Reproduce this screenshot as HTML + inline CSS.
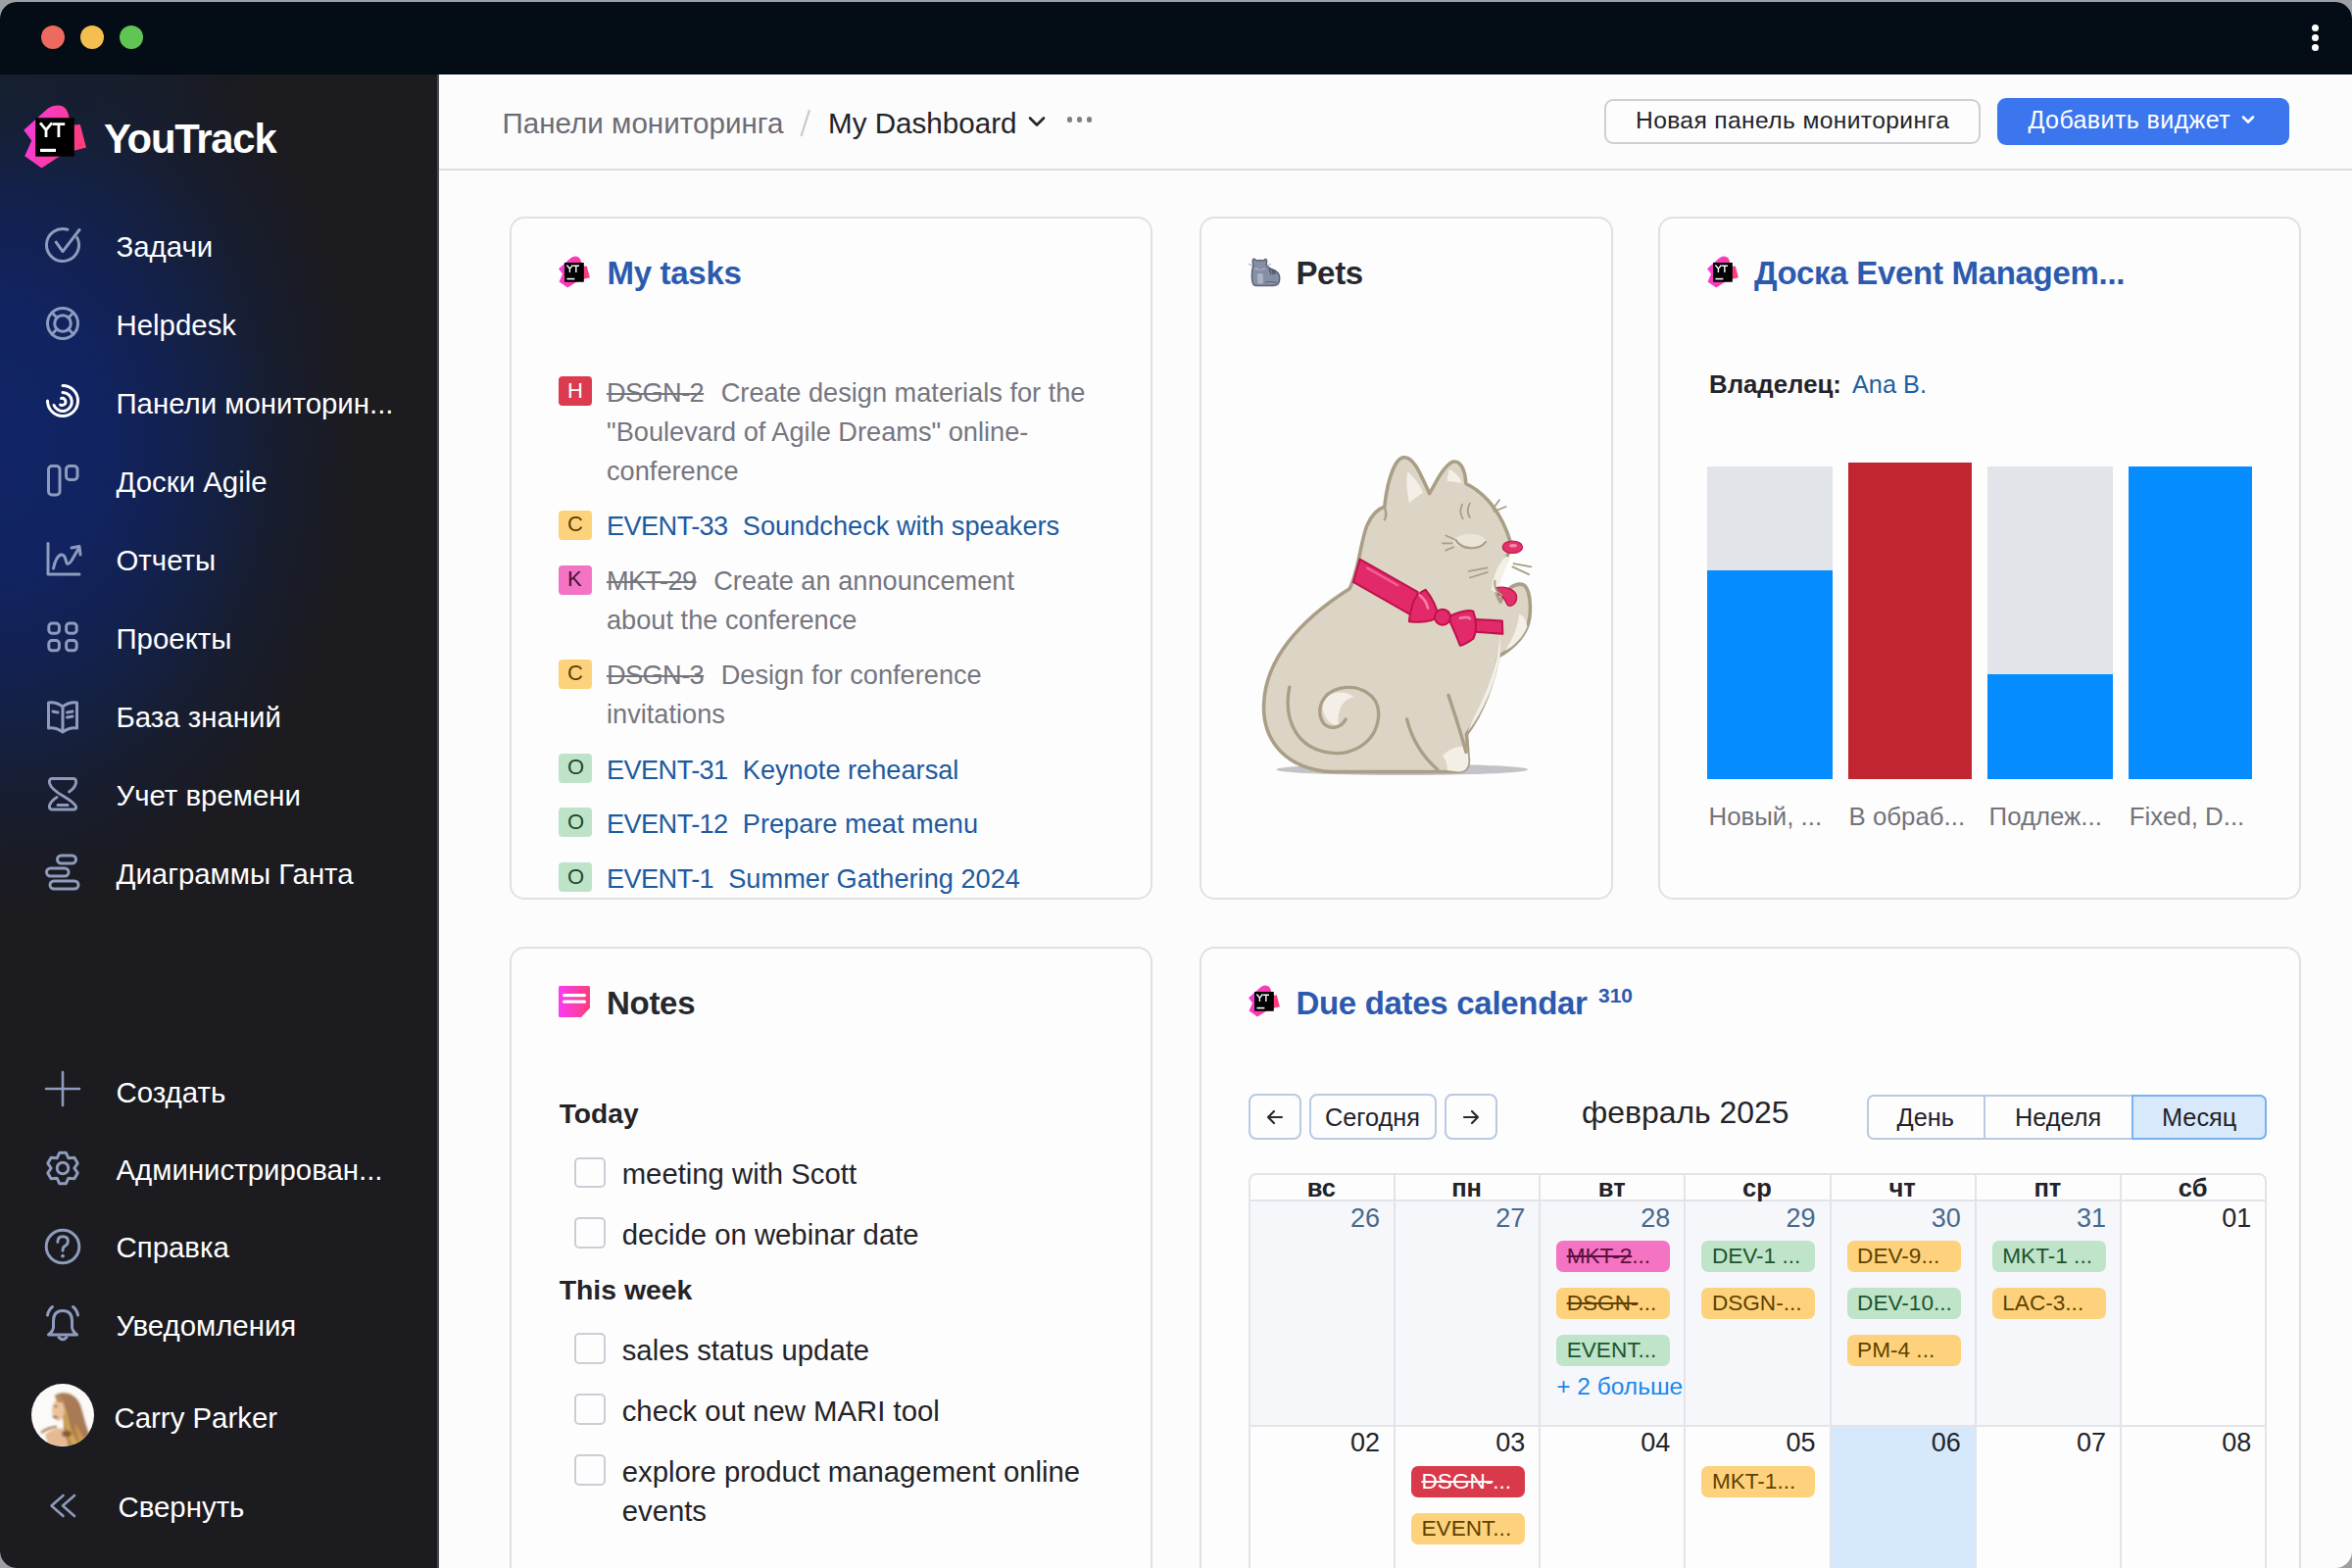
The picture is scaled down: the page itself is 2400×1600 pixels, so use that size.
<!DOCTYPE html><html><head><meta charset="utf-8"><style>
*{box-sizing:border-box;margin:0;padding:0}
html,body{width:2400px;height:1600px;overflow:hidden;background:#9ca0a5;font-family:"Liberation Sans",sans-serif}
.t{position:absolute;line-height:1;white-space:nowrap}
.a{position:absolute;display:block}
.win{position:absolute;left:0;top:2px;width:2400px;height:1598px;border-radius:17px;overflow:hidden;background:#fcfcfd}
.pg{position:absolute;left:0;top:-2px;width:2400px;height:1600px}
.card{position:absolute;border:2px solid #e1e0e4;border-radius:15px;background:#fdfdfe;overflow:hidden}
.strike{text-decoration:line-through;text-decoration-thickness:2px}
.id{letter-spacing:-0.6px}
.strike.id{margin-right:2.5px}
</style></head><body><div class="win"><div class="pg"><div class="a" style="left:0.00px;top:0.00px;width:2400.00px;height:76.00px;background:#040d16"></div>
<div class="a" style="left:42.00px;top:26.00px;width:24.00px;height:24.00px;background:#ed6a5e;border-radius:50%"></div>
<div class="a" style="left:82.00px;top:26.00px;width:24.00px;height:24.00px;background:#f5bf4f;border-radius:50%"></div>
<div class="a" style="left:122.00px;top:26.00px;width:24.00px;height:24.00px;background:#61c554;border-radius:50%"></div>
<div class="a" style="left:2358.50px;top:24.50px;width:7.00px;height:7.00px;background:#fff;border-radius:50%"></div>
<div class="a" style="left:2358.50px;top:34.50px;width:7.00px;height:7.00px;background:#fff;border-radius:50%"></div>
<div class="a" style="left:2358.50px;top:44.50px;width:7.00px;height:7.00px;background:#fff;border-radius:50%"></div>
<div class="a" style="left:0;top:76px;width:448px;height:1524px;background:#1b1b20;overflow:hidden"><div class="a" style="left:0;top:0;width:448px;height:1524px;background:radial-gradient(ellipse 360px 470px at 0px 374px,#112466 0%,#112360 30%,#13214f 50%,#15203f 65%,#181d2e 80%,rgba(27,27,32,0) 100%)"></div><div class="a" style="left:0;top:0;width:448px;height:200px;background:radial-gradient(ellipse 260px 120px at 0px 0px,rgba(20,32,48,.8) 0%,rgba(27,27,32,0) 100%)"></div><div class="a" style="left:446px;top:0;width:2px;height:1524px;background:#4a4b51"></div></div>
<svg class="a" style="left:0.00px;top:0.00px;" width="100" height="180" viewBox="0 0 100 180"><defs><linearGradient id="lg1" x1="0" y1="0" x2="1" y2="0.3"><stop offset="0" stop-color="#f53be9"/><stop offset="1" stop-color="#ff3c7c"/></linearGradient></defs><path d="M24.2 132.7 L49 110.5 Q56.5 105.5 64 108.5 Q69 110.5 70.5 120 L76 127.5 L81.8 127 L88 150.5 L75.7 153.8 L58.9 160.7 L42.5 171.4 L25.2 159.2 L32.3 143.4 Z" fill="url(#lg1)"/><rect x="36.2" y="120.2" width="39.6" height="39.5" fill="#000"/><path d="M41 125.3 L47 132.6 L53 125.3 M47 132.6 L47 140" stroke="#fff" stroke-width="2.8" fill="none"/><path d="M53.6 126.7 L66.2 126.7 M59.9 126.7 L59.9 140" stroke="#fff" stroke-width="2.8" fill="none"/><rect x="41" y="151.8" width="16" height="3.2" fill="#fff"/></svg>
<div class="t" style="left:106.00px;top:120.82px;font-size:41.8px;color:#fff;font-weight:700;letter-spacing:-1.2px">YouTrack</div>
<svg class="a" style="left:44.00px;top:230.00px;" width="40" height="40" viewBox="0 0 40 40"><g stroke="#8e9bbd" stroke-width="3" fill="none" stroke-linecap="round" stroke-linejoin="round"><path d="M34.75 12.6 A16.5 16.5 0 1 1 24.8 4.2"/><path d="M13.2 17.2 L20 26.6 L37 4.5"/></g></svg>
<div class="t" style="left:118.50px;top:236.81px;font-size:29.4px;color:#fff;font-weight:400;">Задачи</div>
<svg class="a" style="left:44.00px;top:310.00px;" width="40" height="40" viewBox="0 0 40 40"><g stroke="#8e9bbd" stroke-width="3" fill="none" stroke-linecap="round" stroke-linejoin="round"><circle cx="20" cy="20" r="15.5"/><circle cx="20" cy="20" r="8.3"/><path d="M9 9 L14.2 14.2 M31 9 L25.8 14.2 M9 31 L14.2 25.8 M31 31 L25.8 25.8"/></g></svg>
<div class="t" style="left:118.50px;top:316.81px;font-size:29.4px;color:#fff;font-weight:400;">Helpdesk</div>
<svg class="a" style="left:44.00px;top:390.00px;" width="40" height="40" viewBox="0 0 40 40"><g stroke="#fff" stroke-width="3" fill="none" stroke-linecap="round" stroke-linejoin="round"><path d="M4.5 19 A15.5 15.5 0 1 0 20 3.5"/><path d="M11 23.5 A9.5 9.5 0 1 0 20 10.5" /><path d="M18.5 16.5 A3.6 3.6 0 1 1 17.5 23"/></g></svg>
<div class="t" style="left:118.50px;top:396.81px;font-size:29.4px;color:#fff;font-weight:400;">Панели мониторин...</div>
<svg class="a" style="left:44.00px;top:470.00px;" width="40" height="40" viewBox="0 0 40 40"><g stroke="#8e9bbd" stroke-width="3" fill="none" stroke-linecap="round" stroke-linejoin="round"><rect x="5.5" y="5.5" width="11.5" height="29.5" rx="3.5"/><rect x="23.5" y="5.5" width="11.5" height="14" rx="3.5"/></g></svg>
<div class="t" style="left:118.50px;top:476.81px;font-size:29.4px;color:#fff;font-weight:400;">Доски Agile</div>
<svg class="a" style="left:44.00px;top:550.00px;" width="40" height="40" viewBox="0 0 40 40"><g stroke="#8e9bbd" stroke-width="3" fill="none" stroke-linecap="round" stroke-linejoin="round"><path d="M5 4.5 L5 36 L37 36"/><path d="M10.5 30 Q13 18 18 16 Q22 15 23.5 23 Q25 28 29 22 L36 10"/><path d="M29 9 L37 7.5 L38 16"/></g></svg>
<div class="t" style="left:118.50px;top:556.81px;font-size:29.4px;color:#fff;font-weight:400;">Отчеты</div>
<svg class="a" style="left:44.00px;top:630.00px;" width="40" height="40" viewBox="0 0 40 40"><g stroke="#8e9bbd" stroke-width="3" fill="none" stroke-linecap="round" stroke-linejoin="round"><rect x="5.8" y="6" width="10.6" height="10.2" rx="3.2"/><rect x="23.6" y="6" width="10.6" height="10.2" rx="3.2"/><rect x="5.8" y="23.6" width="10.6" height="10.2" rx="3.2"/><rect x="23.6" y="23.6" width="10.6" height="10.2" rx="3.2"/></g></svg>
<div class="t" style="left:118.50px;top:636.81px;font-size:29.4px;color:#fff;font-weight:400;">Проекты</div>
<svg class="a" style="left:44.00px;top:710.00px;" width="40" height="40" viewBox="0 0 40 40"><g stroke="#8e9bbd" stroke-width="3" fill="none" stroke-linecap="round" stroke-linejoin="round"><path d="M20 37 L20 11 Q13 6 5.5 7 L5.5 33 Q13 32 20 37 Q27 32 34.5 33 L34.5 7 Q27 6 20 11"/><path d="M10 16 L15 17 M24.5 17 L30 16 M24.5 22 L30 21"/></g></svg>
<div class="t" style="left:118.50px;top:716.81px;font-size:29.4px;color:#fff;font-weight:400;">База знаний</div>
<svg class="a" style="left:44.00px;top:790.00px;" width="40" height="40" viewBox="0 0 40 40"><g stroke="#8e9bbd" stroke-width="3" fill="none" stroke-linecap="round" stroke-linejoin="round"><path d="M9 4.5 L31 4.5 Q34 4.5 33.5 9 Q32.5 14 26.5 18"/><path d="M9 4.5 Q6 4.5 6.5 9 Q8 15 20 22 Q32 29 33.5 33 Q34 36 31 36 L9 36 Q6 36 6.5 32 Q8 27 14 23.5"/><path d="M15 31.5 L25 31.5"/></g></svg>
<div class="t" style="left:118.50px;top:796.81px;font-size:29.4px;color:#fff;font-weight:400;">Учет времени</div>
<svg class="a" style="left:44.00px;top:870.00px;" width="40" height="40" viewBox="0 0 40 40"><g stroke="#8e9bbd" stroke-width="3" fill="none" stroke-linecap="round" stroke-linejoin="round"><rect x="14.5" y="3" width="19" height="8" rx="4"/><rect x="3.5" y="16" width="22.5" height="8" rx="4"/><rect x="7" y="29" width="29" height="8" rx="4"/></g></svg>
<div class="t" style="left:118.50px;top:876.81px;font-size:29.4px;color:#fff;font-weight:400;">Диаграммы Ганта</div>
<svg class="a" style="left:44.00px;top:1090.50px;" width="40" height="40" viewBox="0 0 40 40"><g stroke="#8e9bbd" stroke-width="3" fill="none" stroke-linecap="round" stroke-linejoin="round"><path d="M20 3 L20 37 M3 20 L37 20" stroke-width="2.6"/></g></svg>
<div class="t" style="left:118.50px;top:1099.51px;font-size:29.4px;color:#fff;font-weight:400;">Создать</div>
<svg class="a" style="left:44.00px;top:1172.00px;" width="40" height="40" viewBox="0 0 40 40"><g stroke="#8e9bbd" stroke-width="3" fill="none" stroke-linecap="round" stroke-linejoin="round"><path d="M16.67 4.35 L23.33 4.35 L25.90 9.78 L31.89 9.29 L35.22 15.06 L31.80 20.00 L35.22 24.94 L31.89 30.71 L25.90 30.22 L23.33 35.65 L16.67 35.65 L14.10 30.22 L8.11 30.71 L4.78 24.94 L8.20 20.00 L4.78 15.06 L8.11 9.29 L14.10 9.78 Z"/><circle cx="20" cy="20" r="5.8"/></g></svg>
<div class="t" style="left:118.50px;top:1179.41px;font-size:29.4px;color:#fff;font-weight:400;">Администрирован...</div>
<svg class="a" style="left:44.00px;top:1251.60px;" width="40" height="40" viewBox="0 0 40 40"><g stroke="#8e9bbd" stroke-width="3" fill="none" stroke-linecap="round" stroke-linejoin="round"><circle cx="20" cy="20" r="16.8"/><path d="M14.8 15.5 Q14.8 9.8 20 9.8 Q25.4 9.8 25.4 14.6 Q25.4 17.8 22 19.6 Q20 20.8 20 24.2" stroke-width="2.9"/><circle cx="20" cy="29.6" r="1.9" fill="#8e9bbd" stroke="none"/></g></svg>
<div class="t" style="left:118.50px;top:1258.41px;font-size:29.4px;color:#fff;font-weight:400;">Справка</div>
<svg class="a" style="left:44.00px;top:1331.30px;" width="40" height="40" viewBox="0 0 40 40"><g stroke="#8e9bbd" stroke-width="3" fill="none" stroke-linecap="round" stroke-linejoin="round"><path d="M20 6.5 Q10.5 6.5 10.5 17 L10.5 23 Q10.5 27 5.5 31 L34.5 31 Q29.5 27 29.5 23 L29.5 17 Q29.5 6.5 20 6.5 Z"/><path d="M16 33.5 Q20 38 24 33.5"/><path d="M4.5 11 Q5.5 5.5 9.5 2.5 M35.5 11 Q34.5 5.5 30.5 2.5"/></g></svg>
<div class="t" style="left:118.50px;top:1338.11px;font-size:29.4px;color:#fff;font-weight:400;">Уведомления</div>
<svg class="a" style="left:32.00px;top:1412.00px;" width="64" height="64" viewBox="0 0 64 64"><defs><clipPath id="avc"><circle cx="32" cy="32" r="32"/></clipPath><filter id="avb" x="-10%" y="-10%" width="120%" height="120%"><feGaussianBlur stdDeviation="1.1"/></filter></defs><g clip-path="url(#avc)"><rect width="64" height="64" fill="#fbfaf8"/><g filter="url(#avb)"><path d="M24 12 C32 6 46 10 50 22 C54 34 56 46 62 58 L62 64 L26 64 C30 56 34 48 33 40 C32 30 30 20 24 12 Z" fill="#a87a55"/><path d="M34 24 C38 32 38 42 42 50 C44 56 48 60 52 64 L42 64 C38 56 34 46 34 36 Z" fill="#d0a650"/><path d="M44 40 C48 46 52 52 56 60 L50 62 C47 55 45 48 44 40 Z" fill="#c99a48"/><ellipse cx="27.5" cy="27" rx="6.5" ry="11" fill="#ebc29c"/><path d="M24 13 C28 10 33 13 34 19 L27 19 Z" fill="#b7865a"/><path d="M14 52 C20 46 28 44 34 47 L38 64 L18 64 Z" fill="#e6b993"/><ellipse cx="36" cy="51" rx="5" ry="3.5" fill="#8a5a38"/><path d="M10 50 Q18 44 26 44" stroke="#9a6a45" stroke-width="2" fill="none"/><path d="M22 33 Q24 35 27 34" stroke="#7a3a2a" stroke-width="1.6" fill="none"/><ellipse cx="25" cy="23" rx="1.5" ry="1" fill="#5a3a2a"/></g></g></svg>
<div class="t" style="left:116.50px;top:1432.11px;font-size:29.4px;color:#fff;font-weight:400;">Carry Parker</div>
<svg class="a" style="left:44.00px;top:1516.80px;" width="40" height="40" viewBox="0 0 40 40"><g stroke="#8e9bbd" stroke-width="3" fill="none" stroke-linecap="round" stroke-linejoin="round"><path d="M20.5 9 L8.5 19.5 L20.5 30 M32 9 L20 19.5 L32 30" stroke-width="2.6"/></g></svg>
<div class="t" style="left:120.50px;top:1522.51px;font-size:29.4px;color:#fff;font-weight:400;">Свернуть</div>
<div class="a" style="left:448.00px;top:76.00px;width:1952.00px;height:96.00px;background:#fcfcfd"></div>
<div class="a" style="left:448.00px;top:172.00px;width:1952.00px;height:2.00px;background:#dedde1"></div>
<div class="t" style="left:512.50px;top:111.04px;font-size:29.6px;color:#6c6c75;font-weight:400;">Панели мониторинга</div>
<svg class="a" style="left:812.00px;top:108.00px;" width="20" height="36" viewBox="0 0 20 36"><path d="M14 4 L5.5 31" stroke="#c9c9cd" stroke-width="2.2"/></svg>
<div class="t" style="left:845.00px;top:111.04px;font-size:29.6px;color:#232328;font-weight:400;">My Dashboard</div>
<svg class="a" style="left:1046.00px;top:114.00px;" width="24" height="20" viewBox="0 0 24 20"><path d="M5 6.5 L12 13.5 L19 6.5" stroke="#232328" stroke-width="2.6" fill="none" stroke-linecap="round" stroke-linejoin="round"/></svg>
<div class="a" style="left:1089.20px;top:119.40px;width:5.20px;height:5.20px;border-radius:50%;background:#7f7f87"></div>
<div class="a" style="left:1099.10px;top:119.40px;width:5.20px;height:5.20px;border-radius:50%;background:#7f7f87"></div>
<div class="a" style="left:1109.20px;top:119.40px;width:5.20px;height:5.20px;border-radius:50%;background:#7f7f87"></div>
<div class="a" style="left:1637.00px;top:100.50px;width:384.00px;height:46.50px;border:2px solid #cfcfd3;border-radius:9px;background:#fdfdfe"></div>
<div class="t" style="left:1669.00px;top:110.78px;font-size:24.6px;color:#232328;font-weight:400;letter-spacing:0.38px">Новая панель мониторинга</div>
<div class="a" style="left:2038.00px;top:100.00px;width:298.00px;height:47.60px;border-radius:9px;background:#3b76ef"></div>
<div class="t" style="left:2069.50px;top:110.24px;font-size:25px;color:#fff;font-weight:400;letter-spacing:0.4px">Добавить виджет</div>
<svg class="a" style="left:2282.00px;top:112.00px;" width="24" height="20" viewBox="0 0 24 20"><path d="M7 7.5 L12 12.5 L17 7.5" stroke="#fff" stroke-width="2.6" fill="none" stroke-linecap="round" stroke-linejoin="round"/></svg>
<div class="card" style="left:520px;top:221px;width:656px;height:697px;"><svg class="a" style="left:47.00px;top:38.00px;" width="34" height="34" viewBox="22.2 106.2 68 68"><path d="M24.2 132.7 L49 110.5 Q56.5 105.5 64 108.5 Q69 110.5 70.5 120 L76 127.5 L81.8 127 L88 150.5 L75.7 153.8 L58.9 160.7 L42.5 171.4 L25.2 159.2 L32.3 143.4 Z" fill="url(#lg1)"/><rect x="36.2" y="120.2" width="39.6" height="39.5" fill="#000"/><path d="M41 125.3 L47 132.6 L53 125.3 M47 132.6 L47 140" stroke="#fff" stroke-width="2.8" fill="none"/><path d="M53.6 126.7 L66.2 126.7 M59.9 126.7 L59.9 140" stroke="#fff" stroke-width="2.8" fill="none"/><rect x="41" y="151.8" width="16" height="3.2" fill="#fff"/></svg><div class="t" style="left:97.50px;top:38.87px;font-size:33px;color:#2c5aae;font-weight:700;letter-spacing:-0.3px">My tasks</div><div class="a" style="left:48.00px;top:161.00px;width:34.00px;height:30.00px;background:#dc3a4f;border-radius:4px"></div><div class="t" style="left:57.08px;top:164.88px;font-size:22px;color:#fff;font-weight:400;">H</div><div class="t" style="left:97.00px;top:163.98px;font-size:27.2px;color:#76767e;font-weight:400;"><span class="strike id">DSGN-2</span>&nbsp; Create design materials for the</div><div class="t" style="left:97.00px;top:203.98px;font-size:27.2px;color:#76767e;font-weight:400;">"Boulevard of Agile Dreams" online-</div><div class="t" style="left:97.00px;top:243.98px;font-size:27.2px;color:#76767e;font-weight:400;">conference</div><div class="a" style="left:48.00px;top:297.50px;width:34.00px;height:30.00px;background:#fdd27c;border-radius:4px"></div><div class="t" style="left:57.08px;top:301.38px;font-size:22px;color:#5a4200;font-weight:400;">C</div><div class="t" style="left:97.00px;top:300.48px;font-size:27.2px;color:#1f5a9e;font-weight:400;"><span class="id">EVENT-33</span>&nbsp; Soundcheck with speakers</div><div class="a" style="left:48.00px;top:353.50px;width:34.00px;height:30.00px;background:#f374c3;border-radius:4px"></div><div class="t" style="left:57.08px;top:357.38px;font-size:22px;color:#4a0f33;font-weight:400;">K</div><div class="t" style="left:97.00px;top:356.48px;font-size:27.2px;color:#76767e;font-weight:400;"><span class="strike id">MKT-29</span>&nbsp; Create an announcement</div><div class="t" style="left:97.00px;top:396.48px;font-size:27.2px;color:#76767e;font-weight:400;">about the conference</div><div class="a" style="left:48.00px;top:449.50px;width:34.00px;height:30.00px;background:#fdd27c;border-radius:4px"></div><div class="t" style="left:57.08px;top:453.38px;font-size:22px;color:#5a4200;font-weight:400;">C</div><div class="t" style="left:97.00px;top:452.48px;font-size:27.2px;color:#76767e;font-weight:400;"><span class="strike id">DSGN-3</span>&nbsp; Design for conference</div><div class="t" style="left:97.00px;top:492.48px;font-size:27.2px;color:#76767e;font-weight:400;">invitations</div><div class="a" style="left:48.00px;top:545.60px;width:34.00px;height:30.00px;background:#bfe3c8;border-radius:4px"></div><div class="t" style="left:57.08px;top:549.48px;font-size:22px;color:#1f4a2a;font-weight:400;">O</div><div class="t" style="left:97.00px;top:548.58px;font-size:27.2px;color:#1f5a9e;font-weight:400;"><span class="id">EVENT-31</span>&nbsp; Keynote rehearsal</div><div class="a" style="left:48.00px;top:601.40px;width:34.00px;height:30.00px;background:#bfe3c8;border-radius:4px"></div><div class="t" style="left:57.08px;top:605.28px;font-size:22px;color:#1f4a2a;font-weight:400;">O</div><div class="t" style="left:97.00px;top:604.38px;font-size:27.2px;color:#1f5a9e;font-weight:400;"><span class="id">EVENT-12</span>&nbsp; Prepare meat menu</div><div class="a" style="left:48.00px;top:657.40px;width:34.00px;height:30.00px;background:#bfe3c8;border-radius:4px"></div><div class="t" style="left:57.08px;top:661.28px;font-size:22px;color:#1f4a2a;font-weight:400;">O</div><div class="t" style="left:97.00px;top:660.38px;font-size:27.2px;color:#1f5a9e;font-weight:400;"><span class="id">EVENT-1</span>&nbsp; Summer Gathering 2024</div></div>
<div class="card" style="left:1224px;top:221px;width:422px;height:697px;"><div class="t" style="left:96.40px;top:38.87px;font-size:33px;color:#27282d;font-weight:700;letter-spacing:-0.3px">Pets</div><svg class="a" style="left:39.00px;top:32.00px;" width="50" height="45" viewBox="0 0 1742 1568"><ellipse cx="920" cy="1250" rx="500" ry="40" fill="#c8ccd6"/><path d="M470 340 C500 300 560 330 600 380 C680 360 780 360 860 380 C880 330 930 310 955 350 C970 420 960 480 940 540 C990 600 1050 650 1120 680 C1300 730 1420 850 1420 1020 C1420 1180 1330 1260 1200 1270 L560 1270 C470 1250 430 1120 430 950 C430 780 450 650 480 560 C460 480 455 400 470 340 Z" fill="#858fa3" stroke="#5b6274" stroke-width="50" stroke-linejoin="round"/><path d="M620 860 C690 820 790 830 830 880 L830 1180 C790 1230 700 1230 640 1180 Z" fill="#adb3c4"/><path d="M1060 680 L1110 860 M1150 700 L1190 860 M1230 740 L1250 850" stroke="#4a5062" stroke-width="45" stroke-linecap="round"/><path d="M530 680 C590 650 650 680 690 720 M760 720 C800 680 860 660 900 680" stroke="#b5bbca" stroke-width="40" fill="none" stroke-linecap="round"/><path d="M320 500 L430 560 M1100 500 L980 560" stroke="#8f96a6" stroke-width="30" stroke-linecap="round"/><path d="M920 1150 C1000 1120 1150 1130 1300 1160" stroke="#5b6274" stroke-width="40" fill="none" stroke-linecap="round"/></svg><svg class="a" style="left:44.00px;top:227.00px;" width="310" height="350" viewBox="0 0 1389 1568">
<ellipse cx="720" cy="1502" rx="575" ry="26" fill="#c2c2c7"/>
<path d="M640 300 C650 200 680 85 725 75 C770 68 800 140 845 240 C875 190 905 120 950 95 C995 85 1010 150 1012 195
 C1100 235 1175 330 1215 460 C1222 520 1170 560 1150 620 C1140 660 1150 700 1170 735
 C1190 680 1240 640 1280 660 C1312 690 1312 800 1292 850 C1262 920 1205 960 1160 985
 C1140 1100 1090 1240 1015 1340 L1022 1440 C1030 1490 1010 1512 980 1512 L400 1512
 C200 1502 80 1380 88 1200 C96 1000 250 820 480 675 C520 600 530 460 560 385 C580 340 610 310 640 300 Z"
 fill="#dcd4c5" stroke="#a99e86" stroke-width="16" stroke-linejoin="round"/>
<path d="M745 140 C775 165 805 205 815 235 L752 282 C742 230 738 180 745 140 Z" fill="#f4efe6"/>
<path d="M935 130 C960 140 985 165 995 192 L925 183 Z" fill="#f4efe6"/>
<path d="M1195 525 C1160 560 1135 620 1128 680 L1160 700 C1165 640 1190 580 1215 540 Z" fill="#f4efe6"/>
<path d="M1170 880 C1160 1000 1120 1130 1050 1260 L1020 1330 C1090 1240 1150 1100 1168 985 Z" fill="#f4efe6"/>
<path d="M1255 790 C1275 800 1290 820 1292 850 C1270 900 1235 935 1190 960 C1230 900 1250 850 1255 790 Z" fill="#f4efe6"/>
<path d="M360 1180 C400 1140 470 1140 500 1170 C450 1180 420 1230 430 1300 C380 1300 345 1240 360 1180 Z" fill="#f4efe6"/>
<path d="M905 1440 C940 1400 990 1390 1015 1400 L1022 1440 C1030 1490 1010 1512 980 1512 L925 1505 C930 1480 920 1455 905 1440 Z" fill="#f4efe6"/>
<path d="M205 1125 C180 1250 220 1385 360 1420 C480 1450 600 1385 612 1262 C622 1160 525 1110 432 1132 C352 1152 322 1232 362 1292 C392 1322 442 1312 462 1272" fill="none" stroke="#a99e86" stroke-width="15" stroke-linecap="round"/>
<path d="M742 1272 C762 1352 802 1432 882 1502" fill="none" stroke="#a99e86" stroke-width="15" stroke-linecap="round"/>
<path d="M932 1162 C962 1252 992 1342 1012 1422" fill="none" stroke="#a99e86" stroke-width="15" stroke-linecap="round"/>
<path d="M640 300 C648 330 650 345 640 360" fill="none" stroke="#a99e86" stroke-width="10" stroke-linecap="round"/>
<ellipse cx="1030" cy="458" rx="72" ry="34" fill="#ebe5d9"/>
<path d="M965 452 C992 500 1072 500 1102 462" fill="none" stroke="#a99e86" stroke-width="10" stroke-linecap="round"/>
<path d="M955 448 L920 432 M948 468 L905 468 M955 485 L920 500" fill="none" stroke="#a99e86" stroke-width="8" stroke-linecap="round"/>
<path d="M995 290 C985 310 985 335 998 355 M1030 285 C1018 305 1018 330 1030 350" fill="none" stroke="#a99e86" stroke-width="8" stroke-linecap="round"/>
<path d="M1135 310 L1165 270 M1140 322 L1195 300" fill="none" stroke="#a99e86" stroke-width="8" stroke-linecap="round"/>
<path d="M1230 560 L1310 575 M1225 575 L1300 610 M1110 580 L1025 595 M1110 600 L1030 625" fill="none" stroke="#a99e86" stroke-width="8" stroke-linecap="round"/>
<path d="M1150 672 C1180 662 1230 675 1242 702 C1250 735 1228 760 1205 752 C1190 740 1195 712 1160 700 Z" fill="#e2326b" stroke="#c0174d" stroke-width="6"/>
<path d="M1145 640 C1140 670 1150 690 1175 705" fill="none" stroke="#a99e86" stroke-width="9" stroke-linecap="round"/>
<ellipse cx="1225" cy="485" rx="46" ry="28" fill="#e2326b" stroke="#c0174d" stroke-width="5"/>
<ellipse cx="1228" cy="478" rx="18" ry="8" fill="#f58aab"/>
<path d="M527 540 L792 690 L770 800 L497 645 Z" fill="#e2296a" stroke="#bf1248" stroke-width="9" stroke-linejoin="round"/>
<path d="M1055 815 L1178 822 L1180 882 L1055 872 Z" fill="#e2296a" stroke="#bf1248" stroke-width="9" stroke-linejoin="round"/>
<path d="M765 760 C770 720 800 690 828 680 C860 720 880 770 885 800 C860 830 800 830 752 825 C755 800 758 780 765 760 Z" fill="#e2296a" stroke="#bf1248" stroke-width="9" stroke-linejoin="round"/>
<path d="M930 805 C980 780 1020 770 1045 778 C1062 820 1062 870 1045 905 C1020 920 1000 935 985 935 C965 880 945 840 930 805 Z" fill="#e2296a" stroke="#bf1248" stroke-width="9" stroke-linejoin="round"/>
<circle cx="905" cy="805" r="36" fill="#e2296a" stroke="#bf1248" stroke-width="9"/>
<path d="M800 705 C820 720 835 745 838 765" stroke="#f57ea4" stroke-width="12" fill="none" stroke-linecap="round"/>
<path d="M985 810 C1005 805 1025 805 1030 812" stroke="#f57ea4" stroke-width="12" fill="none" stroke-linecap="round"/>
<path d="M560 580 L700 660" stroke="#f06592" stroke-width="10" fill="none" stroke-linecap="round"/>
</svg></div>
<div class="card" style="left:1692px;top:221px;width:656px;height:697px;"><svg class="a" style="left:47.00px;top:38.00px;" width="34" height="34" viewBox="22.2 106.2 68 68"><path d="M24.2 132.7 L49 110.5 Q56.5 105.5 64 108.5 Q69 110.5 70.5 120 L76 127.5 L81.8 127 L88 150.5 L75.7 153.8 L58.9 160.7 L42.5 171.4 L25.2 159.2 L32.3 143.4 Z" fill="url(#lg1)"/><rect x="36.2" y="120.2" width="39.6" height="39.5" fill="#000"/><path d="M41 125.3 L47 132.6 L53 125.3 M47 132.6 L47 140" stroke="#fff" stroke-width="2.8" fill="none"/><path d="M53.6 126.7 L66.2 126.7 M59.9 126.7 L59.9 140" stroke="#fff" stroke-width="2.8" fill="none"/><rect x="41" y="151.8" width="16" height="3.2" fill="#fff"/></svg><div class="t" style="left:96.00px;top:38.87px;font-size:33px;color:#2c5aae;font-weight:700;letter-spacing:-0.3px">Доска Event Managem...</div><div class="t" style="left:50.00px;top:156.86px;font-size:25.8px;color:#232328;font-weight:700;">Владелец:</div><div class="t" style="left:196.00px;top:157.28px;font-size:25.3px;color:#1f5fa0;font-weight:400;">Ana B.</div><div class="a" style="left:48.30px;top:253.00px;width:127.50px;height:105.60px;background:#e1e4e8"></div><div class="a" style="left:48.30px;top:358.60px;width:127.50px;height:213.70px;background:#058cff"></div><div class="a" style="left:192.10px;top:248.70px;width:125.80px;height:323.60px;background:#c1252f"></div><div class="a" style="left:333.90px;top:253.00px;width:128.00px;height:211.70px;background:#e1e4e8"></div><div class="a" style="left:333.90px;top:464.70px;width:128.00px;height:107.60px;background:#058cff"></div><div class="a" style="left:477.90px;top:253.00px;width:126.10px;height:319.30px;background:#058cff"></div><div class="t" style="left:49.60px;top:598.16px;font-size:25.8px;color:#737379;font-weight:400;">Новый, ...</div><div class="t" style="left:192.60px;top:598.16px;font-size:25.8px;color:#737379;font-weight:400;">В обраб...</div><div class="t" style="left:335.60px;top:598.16px;font-size:25.8px;color:#737379;font-weight:400;">Подлеж...</div><div class="t" style="left:478.70px;top:598.16px;font-size:25.8px;color:#737379;font-weight:400;">Fixed, D...</div></div>
<div class="card" style="left:520px;top:966px;width:656px;height:700px;"><svg class="a" style="left:48.00px;top:38.00px;" width="32" height="32" viewBox="0 0 32 32"><defs><linearGradient id="ng" x1="0" y1="0" x2="1" y2="0"><stop offset="0" stop-color="#fa3bf2"/><stop offset="1" stop-color="#fc3f7a"/></linearGradient></defs><path d="M1.5 0 L30.5 0 Q32 0 32 1.5 L32 22.5 L23 32 L1.5 32 Q0 32 0 30.5 L0 1.5 Q0 0 1.5 0 Z" fill="url(#ng)"/><rect x="4" y="8" width="24" height="3.2" rx="1.6" fill="#fff"/><rect x="4" y="14.6" width="24" height="3.2" rx="1.6" fill="#fff"/></svg><div class="t" style="left:97.00px;top:38.57px;font-size:33px;color:#27282d;font-weight:700;letter-spacing:-0.3px">Notes</div><div class="t" style="left:48.70px;top:154.13px;font-size:28.2px;color:#232328;font-weight:700;">Today</div><div class="t" style="left:48.70px;top:333.96px;font-size:28.4px;color:#232328;font-weight:700;">This week</div><div class="a" style="left:64.00px;top:212.70px;width:31.50px;height:31.50px;border:2px solid #c9ced6;border-radius:5px;background:#fdfdfe"></div><div class="t" style="left:112.70px;top:215.40px;font-size:29.3px;color:#232328;font-weight:400;">meeting with Scott</div><div class="a" style="left:64.00px;top:274.00px;width:31.50px;height:31.50px;border:2px solid #c9ced6;border-radius:5px;background:#fdfdfe"></div><div class="t" style="left:112.70px;top:276.70px;font-size:29.3px;color:#232328;font-weight:400;">decide on webinar date</div><div class="a" style="left:64.00px;top:392.00px;width:31.50px;height:31.50px;border:2px solid #c9ced6;border-radius:5px;background:#fdfdfe"></div><div class="t" style="left:112.70px;top:394.70px;font-size:29.3px;color:#232328;font-weight:400;">sales status update</div><div class="a" style="left:64.00px;top:454.00px;width:31.50px;height:31.50px;border:2px solid #c9ced6;border-radius:5px;background:#fdfdfe"></div><div class="t" style="left:112.70px;top:456.70px;font-size:29.3px;color:#232328;font-weight:400;">check out new MARI tool</div><div class="a" style="left:64.00px;top:516.00px;width:31.50px;height:31.50px;border:2px solid #c9ced6;border-radius:5px;background:#fdfdfe"></div><div class="t" style="left:112.70px;top:518.70px;font-size:29.3px;color:#232328;font-weight:400;">explore product management online</div><div class="t" style="left:112.70px;top:558.70px;font-size:29.3px;color:#232328;font-weight:400;">events</div></div>
<div class="card" style="left:1224px;top:966px;width:1124px;height:700px;"><svg class="a" style="left:47.00px;top:37.00px;" width="34" height="34" viewBox="22.2 106.2 68 68"><path d="M24.2 132.7 L49 110.5 Q56.5 105.5 64 108.5 Q69 110.5 70.5 120 L76 127.5 L81.8 127 L88 150.5 L75.7 153.8 L58.9 160.7 L42.5 171.4 L25.2 159.2 L32.3 143.4 Z" fill="url(#lg1)"/><rect x="36.2" y="120.2" width="39.6" height="39.5" fill="#000"/><path d="M41 125.3 L47 132.6 L53 125.3 M47 132.6 L47 140" stroke="#fff" stroke-width="2.8" fill="none"/><path d="M53.6 126.7 L66.2 126.7 M59.9 126.7 L59.9 140" stroke="#fff" stroke-width="2.8" fill="none"/><rect x="41" y="151.8" width="16" height="3.2" fill="#fff"/></svg><div class="t" style="left:96.40px;top:38.57px;font-size:33px;color:#2c5aae;font-weight:700;letter-spacing:-0.3px">Due dates calendar</div><div class="t" style="left:405.00px;top:36.72px;font-size:21px;color:#2c5aae;font-weight:700;">310</div><div class="a" style="left:48.30px;top:148.30px;width:53.30px;height:47.00px;border:2px solid #b8cbe1;border-radius:8px;background:#fdfdfe;"></div><div class="a" style="left:110.20px;top:148.30px;width:129.50px;height:47.00px;border:2px solid #b8cbe1;border-radius:8px;background:#fdfdfe;"></div><div class="a" style="left:248.30px;top:148.30px;width:53.30px;height:47.00px;border:2px solid #b8cbe1;border-radius:8px;background:#fdfdfe;"></div><svg class="a" style="left:64.00px;top:161.00px;" width="22" height="22" viewBox="0 0 22 22"><path d="M18 11 L4 11 M10 5 L4 11 L10 17" stroke="#2a2a30" stroke-width="2.2" fill="none" stroke-linecap="round" stroke-linejoin="round"/></svg><svg class="a" style="left:264.00px;top:161.00px;" width="22" height="22" viewBox="0 0 22 22"><path d="M4 11 L18 11 M12 5 L18 11 L12 17" stroke="#2a2a30" stroke-width="2.2" fill="none" stroke-linecap="round" stroke-linejoin="round"/></svg><div class="t" style="left:126.00px;top:159.58px;font-size:25.3px;color:#232328;font-weight:400;">Сегодня</div><div class="t" style="left:388.00px;top:151.60px;font-size:31.9px;color:#232328;font-weight:400;">февраль 2025</div><div class="a" style="left:678.60px;top:148.60px;width:408.60px;height:46.40px;border:2px solid #b8cbe1;border-radius:7px;background:#fdfdfe"></div><div class="a" style="left:948.50px;top:148.60px;width:138.70px;height:46.40px;border:2px solid #78b2ef;border-radius:0 7px 7px 0;background:#d8e9fc"></div><div class="a" style="left:798.00px;top:149.00px;width:2.00px;height:46.00px;background:#b8cbe1"></div><div class="t" style="left:709.50px;top:159.58px;font-size:25.3px;color:#232328;font-weight:400;">День</div><div class="t" style="left:830.00px;top:159.58px;font-size:25.3px;color:#232328;font-weight:400;">Неделя</div><div class="t" style="left:980.00px;top:159.58px;font-size:25.3px;color:#232328;font-weight:400;">Месяц</div><div class="a" style="left:48.30px;top:229.00px;width:1038.90px;height:500.00px;border:2px solid #e2e4e9;border-radius:8px 8px 0 0;background:#fdfdfe"></div><div class="a" style="left:50.30px;top:258.00px;width:887.20px;height:229.00px;background:#f6f7fa"></div><div class="a" style="left:642.10px;top:488.00px;width:147.20px;height:200.00px;background:#d6e9fc"></div><div class="a" style="left:196.00px;top:229.00px;width:2.00px;height:500.00px;background:#e2e4e9"></div><div class="a" style="left:344.20px;top:229.00px;width:2.00px;height:500.00px;background:#e2e4e9"></div><div class="a" style="left:492.40px;top:229.00px;width:2.00px;height:500.00px;background:#e2e4e9"></div><div class="a" style="left:640.60px;top:229.00px;width:2.00px;height:500.00px;background:#e2e4e9"></div><div class="a" style="left:788.80px;top:229.00px;width:2.00px;height:500.00px;background:#e2e4e9"></div><div class="a" style="left:937.00px;top:229.00px;width:2.00px;height:500.00px;background:#e2e4e9"></div><div class="a" style="left:48.30px;top:256.00px;width:1038.90px;height:2.00px;background:#e2e4e9"></div><div class="a" style="left:48.30px;top:486.00px;width:1038.90px;height:2.00px;background:#e2e4e9"></div><div class="t" style="left:48.30px;top:231.91px;width:148.20px;text-align:center;font-size:25.5px;font-weight:700;color:#232328">вс</div><div class="t" style="left:196.50px;top:231.91px;width:148.20px;text-align:center;font-size:25.5px;font-weight:700;color:#232328">пн</div><div class="t" style="left:344.70px;top:231.91px;width:148.20px;text-align:center;font-size:25.5px;font-weight:700;color:#232328">вт</div><div class="t" style="left:492.90px;top:231.91px;width:148.20px;text-align:center;font-size:25.5px;font-weight:700;color:#232328">ср</div><div class="t" style="left:641.10px;top:231.91px;width:148.20px;text-align:center;font-size:25.5px;font-weight:700;color:#232328">чт</div><div class="t" style="left:789.30px;top:231.91px;width:148.20px;text-align:center;font-size:25.5px;font-weight:700;color:#232328">пт</div><div class="t" style="left:937.50px;top:231.91px;width:148.20px;text-align:center;font-size:25.5px;font-weight:700;color:#232328">сб</div><div class="t" style="left:48.30px;top:261.64px;width:133.70px;text-align:right;font-size:27px;color:#48698d">26</div><div class="t" style="left:48.30px;top:490.84px;width:133.70px;text-align:right;font-size:27px;color:#232328">02</div><div class="t" style="left:196.50px;top:261.64px;width:133.70px;text-align:right;font-size:27px;color:#48698d">27</div><div class="t" style="left:196.50px;top:490.84px;width:133.70px;text-align:right;font-size:27px;color:#232328">03</div><div class="t" style="left:344.70px;top:261.64px;width:133.70px;text-align:right;font-size:27px;color:#48698d">28</div><div class="t" style="left:344.70px;top:490.84px;width:133.70px;text-align:right;font-size:27px;color:#232328">04</div><div class="t" style="left:492.90px;top:261.64px;width:133.70px;text-align:right;font-size:27px;color:#48698d">29</div><div class="t" style="left:492.90px;top:490.84px;width:133.70px;text-align:right;font-size:27px;color:#232328">05</div><div class="t" style="left:641.10px;top:261.64px;width:133.70px;text-align:right;font-size:27px;color:#48698d">30</div><div class="t" style="left:641.10px;top:490.84px;width:133.70px;text-align:right;font-size:27px;color:#232328">06</div><div class="t" style="left:789.30px;top:261.64px;width:133.70px;text-align:right;font-size:27px;color:#48698d">31</div><div class="t" style="left:789.30px;top:490.84px;width:133.70px;text-align:right;font-size:27px;color:#232328">07</div><div class="t" style="left:937.50px;top:261.64px;width:133.70px;text-align:right;font-size:27px;color:#232328">01</div><div class="t" style="left:937.50px;top:490.84px;width:133.70px;text-align:right;font-size:27px;color:#232328">08</div><div class="a" style="left:362.20px;top:298.00px;width:116.00px;height:32.00px;background:#f473c2;border-radius:7px"></div><div class="t" style="left:372.70px;top:302.87px;font-size:22.6px;color:#5c0f3d;font-weight:400;"><span class="strike">MKT-2</span>...</div><div class="a" style="left:362.20px;top:346.00px;width:116.00px;height:32.00px;background:#fed27c;border-radius:7px"></div><div class="t" style="left:372.70px;top:350.87px;font-size:22.6px;color:#5e4200;font-weight:400;"><span class="strike">DSGN-</span>...</div><div class="a" style="left:362.20px;top:394.00px;width:116.00px;height:32.00px;background:#bfe4c9;border-radius:7px"></div><div class="t" style="left:372.70px;top:398.87px;font-size:22.6px;color:#1c5530;font-weight:400;">EVENT...</div><div class="a" style="left:510.40px;top:298.00px;width:116.00px;height:32.00px;background:#bfe4c9;border-radius:7px"></div><div class="t" style="left:520.90px;top:302.87px;font-size:22.6px;color:#1c5530;font-weight:400;">DEV-1 ...</div><div class="a" style="left:510.40px;top:346.00px;width:116.00px;height:32.00px;background:#fed27c;border-radius:7px"></div><div class="t" style="left:520.90px;top:350.87px;font-size:22.6px;color:#5e4200;font-weight:400;">DSGN-...</div><div class="a" style="left:658.60px;top:298.00px;width:116.00px;height:32.00px;background:#fed27c;border-radius:7px"></div><div class="t" style="left:669.10px;top:302.87px;font-size:22.6px;color:#5e4200;font-weight:400;">DEV-9...</div><div class="a" style="left:658.60px;top:346.00px;width:116.00px;height:32.00px;background:#bfe4c9;border-radius:7px"></div><div class="t" style="left:669.10px;top:350.87px;font-size:22.6px;color:#1c5530;font-weight:400;">DEV-10...</div><div class="a" style="left:658.60px;top:394.00px;width:116.00px;height:32.00px;background:#fed27c;border-radius:7px"></div><div class="t" style="left:669.10px;top:398.87px;font-size:22.6px;color:#5e4200;font-weight:400;">PM-4 ...</div><div class="a" style="left:806.80px;top:298.00px;width:116.00px;height:32.00px;background:#bfe4c9;border-radius:7px"></div><div class="t" style="left:817.30px;top:302.87px;font-size:22.6px;color:#1c5530;font-weight:400;">MKT-1 ...</div><div class="a" style="left:806.80px;top:346.00px;width:116.00px;height:32.00px;background:#fed27c;border-radius:7px"></div><div class="t" style="left:817.30px;top:350.87px;font-size:22.6px;color:#5e4200;font-weight:400;">LAC-3...</div><div class="a" style="left:214.00px;top:528.00px;width:116.00px;height:32.00px;background:#d93a4b;border-radius:7px"></div><div class="t" style="left:224.50px;top:532.87px;font-size:22.6px;color:#fff;font-weight:400;"><span class="strike">DSGN-</span>...</div><div class="a" style="left:214.00px;top:576.00px;width:116.00px;height:32.00px;background:#fed27c;border-radius:7px"></div><div class="t" style="left:224.50px;top:580.87px;font-size:22.6px;color:#5e4200;font-weight:400;">EVENT...</div><div class="a" style="left:510.40px;top:528.00px;width:116.00px;height:32.00px;background:#fed27c;border-radius:7px"></div><div class="t" style="left:520.90px;top:532.87px;font-size:22.6px;color:#5e4200;font-weight:400;">MKT-1...</div><div class="t" style="left:362.20px;top:435.26px;font-size:24.5px;color:#1a87ec;font-weight:400;">+ 2 больше</div></div></div></div></body></html>
